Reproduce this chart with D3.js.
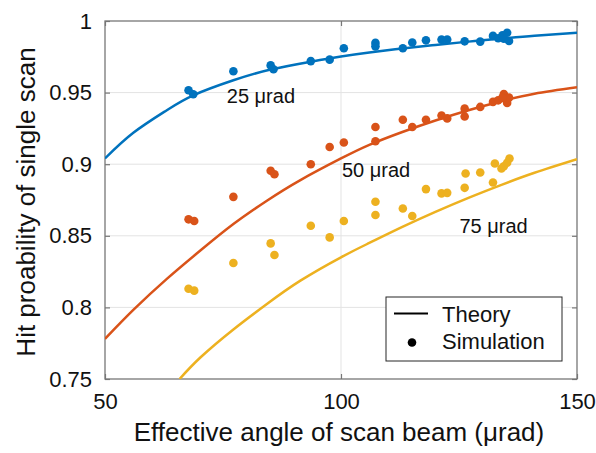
<!DOCTYPE html>
<html>
<head>
<meta charset="utf-8">
<script src="https://cdn.jsdelivr.net/npm/d3@7"></script>
<style>
  body { margin: 0; background: #fff; }
  text { font-family: "Liberation Sans", Arial, sans-serif; fill: #111; }
</style>
</head>
<body>
<div id="vis"></div>
<script>
// axis ticks
const xTicks = [50, 100, 150];
const yTicks = [0.75, 0.8, 0.85, 0.9, 0.95, 1];

// theory curves
const theory25X = [50, 56, 63.1, 68.7, 77.2, 85.1, 93.6, 100, 106, 113, 120, 127, 134, 141, 150];
const theory25Y = [0.904, 0.9219, 0.9377, 0.9481, 0.9586, 0.9661, 0.9716, 0.9752, 0.978, 0.9808, 0.9833, 0.9856, 0.9877, 0.9897, 0.9918];

const theory50X = [50, 56, 63.1, 70.2, 77.2, 84.3, 91.4, 100, 106, 113, 120, 127, 134, 141, 150];
const theory50Y = [0.778, 0.7982, 0.8199, 0.8397, 0.8582, 0.8745, 0.8889, 0.904, 0.9135, 0.9225, 0.9305, 0.9377, 0.944, 0.9492, 0.9537];

const theory75X = [65.8, 70.2, 77.2, 84.3, 91.4, 100, 106, 113, 120, 127, 134, 141, 150];
const theory75Y = [0.75, 0.765, 0.7846, 0.8024, 0.8187, 0.835, 0.845, 0.8562, 0.8667, 0.8765, 0.8856, 0.894, 0.9035];

// simulation points [angle, probability]
const sim25 = [
  [67.7, 0.9516], [68.7, 0.9488], [77.2, 0.9649], [85.1, 0.969], [85.7, 0.9663],
  [93.6, 0.972], [97.6, 0.973], [100.6, 0.981], [107.3, 0.9847], [107.3, 0.9823],
  [113.1, 0.981], [115.1, 0.985], [118.0, 0.9865], [121.3, 0.987], [122.5, 0.987],
  [126.2, 0.9858], [129.5, 0.9856], [132.2, 0.9896], [133.3, 0.988], [134.2, 0.990],
  [134.5, 0.9877], [135.2, 0.9918], [135.6, 0.986]
];
const sim50 = [
  [67.7, 0.8615], [68.9, 0.8603], [77.2, 0.8772], [85.1, 0.8954], [85.9, 0.893],
  [93.6, 0.900], [97.6, 0.912], [100.6, 0.9152], [107.3, 0.926], [107.3, 0.916],
  [113.1, 0.931], [115.1, 0.926], [118.0, 0.931], [121.3, 0.934], [122.5, 0.932],
  [126.2, 0.9388], [126.2, 0.9333], [129.5, 0.940], [132.2, 0.9435], [133.3, 0.9446],
  [134.5, 0.949], [135.2, 0.9428], [135.6, 0.9465], [134.2, 0.9465]
];
const sim75 = [
  [67.7, 0.813], [68.9, 0.8117], [77.2, 0.831], [85.1, 0.8447], [85.9, 0.8366],
  [93.6, 0.857], [97.6, 0.8489], [100.6, 0.8603], [107.3, 0.8738], [107.3, 0.8645],
  [113.1, 0.8691], [115.1, 0.8638], [118.0, 0.8826], [121.3, 0.8796], [122.5, 0.880],
  [126.2, 0.8835], [126.4, 0.8935], [129.5, 0.8942], [132.2, 0.8872], [132.6, 0.9005],
  [134.0, 0.897], [134.5, 0.8986], [135.2, 0.901], [135.7, 0.904]
];

const seriesNames = ["25 μrad", "50 μrad", "75 μrad"];
const colors = ["#0072BD", "#D95319", "#EDB120"];

const series = [
  { name: seriesNames[0], tx: theory25X, ty: theory25Y, sim: sim25, color: colors[0] },
  { name: seriesNames[1], tx: theory50X, ty: theory50Y, sim: sim50, color: colors[1] },
  { name: seriesNames[2], tx: theory75X, ty: theory75Y, sim: sim75, color: colors[2] }
];

// where the in-plot labels sit, in data units
const labelSpots = [[75.8, 0.9424], [100.2, 0.891], [125.1, 0.852]];

const W = 596, H = 453;
const margin = { top: 21, right: 19, bottom: 74, left: 105 };
const width = W - margin.left - margin.right;
const height = H - margin.top - margin.bottom;

const svg = d3.select("#vis").append("svg")
  .attr("width", W)
  .attr("height", H);

const g = svg.append("g")
  .attr("transform", `translate(${margin.left},${margin.top})`);

const x = d3.scaleLinear().domain([50, 150]).range([0, width]);
const y = d3.scaleLinear().domain([0.75, 1]).range([height, 0]);

// grid
g.selectAll("line.gx")
  .data(xTicks.slice(1, -1))
  .enter().append("line")
  .attr("x1", d => x(d)).attr("x2", d => x(d))
  .attr("y1", 0).attr("y2", height)
  .attr("stroke", "#e3e3e3").attr("stroke-width", 1);

g.selectAll("line.gy")
  .data(yTicks.slice(1, -1))
  .enter().append("line")
  .attr("x1", 0).attr("x2", width)
  .attr("y1", d => y(d)).attr("y2", d => y(d))
  .attr("stroke", "#e3e3e3").attr("stroke-width", 1);

// axes (inward ticks, box on)
function styleAxis(sel) {
  sel.select(".domain").remove();
  sel.selectAll(".tick line").attr("stroke", "#777").attr("stroke-width", 1.2);
  sel.selectAll("text").style("font-size", "22px").attr("fill", "#111");
}

g.append("g")
  .attr("transform", `translate(0,${height})`)
  .call(d3.axisBottom(x).tickValues(xTicks).tickSizeInner(-5).tickSizeOuter(0).tickPadding(14))
  .call(styleAxis);

g.append("g")
  .call(d3.axisLeft(y).tickValues(yTicks).tickFormat(d => String(d)).tickSizeInner(-5).tickSizeOuter(0).tickPadding(13))
  .call(styleAxis);

g.append("g")
  .call(d3.axisTop(x).tickValues(xTicks).tickSizeInner(-5).tickSizeOuter(0).tickFormat(""))
  .call(styleAxis);

g.append("g")
  .attr("transform", `translate(${width},0)`)
  .call(d3.axisRight(y).tickValues(yTicks).tickSizeInner(-5).tickSizeOuter(0).tickFormat(""))
  .call(styleAxis);

g.append("rect")
  .attr("width", width).attr("height", height)
  .attr("fill", "none").attr("stroke", "#777").attr("stroke-width", 1.3);

// clip
svg.append("clipPath").attr("id", "clip")
  .append("rect").attr("width", width).attr("height", height);

const plot = g.append("g").attr("clip-path", "url(#clip)");

const line = d3.line()
  .x(d => x(d[0]))
  .y(d => y(d[1]))
  .curve(d3.curveNatural);

series.forEach(s => {
  plot.append("path")
    .datum(s.tx.map((v, i) => [v, s.ty[i]]))
    .attr("fill", "none")
    .attr("stroke", s.color)
    .attr("stroke-width", 2.5)
    .attr("d", line);
});

series.forEach(s => {
  plot.selectAll(null)
    .data(s.sim)
    .enter().append("circle")
    .attr("cx", d => x(d[0]))
    .attr("cy", d => y(d[1]))
    .attr("r", 4.3)
    .attr("fill", s.color);
});

// series labels
series.forEach((s, i) => {
  g.append("text")
    .attr("x", x(labelSpots[i][0]))
    .attr("y", y(labelSpots[i][1]))
    .style("font-size", "20px")
    .text(s.name);
});

// legend
const legend = g.append("g")
  .attr("transform", `translate(${386 - margin.left},${297 - margin.top})`);

legend.append("rect")
  .attr("width", 176).attr("height", 64)
  .attr("fill", "#fff").attr("stroke", "#262626").attr("stroke-width", 1);

legend.append("line")
  .attr("x1", 8).attr("x2", 42)
  .attr("y1", 16.5).attr("y2", 16.5)
  .attr("stroke", "#000").attr("stroke-width", 2);

legend.append("text")
  .attr("x", 56).attr("y", 25)
  .style("font-size", "22px")
  .text("Theory");

legend.append("circle")
  .attr("cx", 26).attr("cy", 45.5).attr("r", 4.3)
  .attr("fill", "#000");

legend.append("text")
  .attr("x", 56).attr("y", 51.5)
  .style("font-size", "22px")
  .text("Simulation");

// axis titles
svg.append("text")
  .attr("x", 339).attr("y", 441)
  .attr("text-anchor", "middle")
  .style("font-size", "26px")
  .text("Effective angle of scan beam (μrad)");

svg.append("text")
  .attr("transform", "translate(35,202) rotate(-90)")
  .attr("text-anchor", "middle")
  .style("font-size", "26px")
  .text("Hit proability of single scan");
</script>
</body>
</html>
